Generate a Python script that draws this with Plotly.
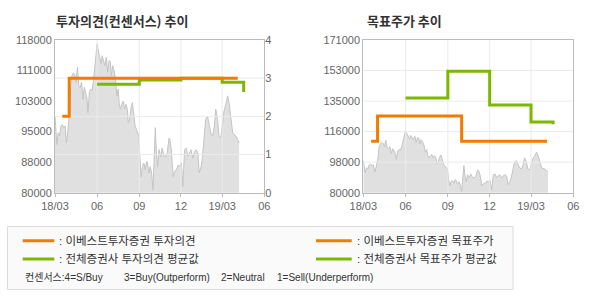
import numpy as np
import plotly.graph_objects as go

# ---------------- data ----------------
price_dates = [
    '2018-03-01', '2018-03-03', '2018-03-05', '2018-03-08', '2018-03-11', '2018-03-14', '2018-03-17',
    '2018-03-20', '2018-03-23', '2018-03-26', '2018-03-29', '2018-04-02', '2018-04-04', '2018-04-07',
    '2018-04-10', '2018-04-13', '2018-04-16', '2018-04-19', '2018-04-22', '2018-04-25', '2018-04-28',
    '2018-05-01', '2018-05-04', '2018-05-07', '2018-05-10', '2018-05-12', '2018-05-15', '2018-05-18',
    '2018-05-21', '2018-05-24', '2018-05-27', '2018-05-30', '2018-06-01',
    '2018-06-04', '2018-06-07', '2018-06-10', '2018-06-12', '2018-06-15', '2018-06-18', '2018-06-21',
    '2018-06-24', '2018-06-27', '2018-06-30', '2018-07-02', '2018-07-05', '2018-07-08', '2018-07-11',
    '2018-07-14', '2018-07-17', '2018-07-19', '2018-07-22', '2018-07-25', '2018-07-28', '2018-07-31',
    '2018-08-03', '2018-08-06', '2018-08-08', '2018-08-11', '2018-08-14', '2018-08-17', '2018-08-20',
    '2018-08-23', '2018-08-26', '2018-08-28', '2018-08-31',
    '2018-09-02', '2018-09-05', '2018-09-08', '2018-09-11', '2018-09-14', '2018-09-17', '2018-09-19',
    '2018-09-22', '2018-09-25', '2018-09-28', '2018-10-01', '2018-10-04', '2018-10-06', '2018-10-08',
    '2018-10-11', '2018-10-14', '2018-10-18', '2018-10-21', '2018-10-25', '2018-10-29', '2018-11-01',
    '2018-11-05', '2018-11-07', '2018-11-10', '2018-11-14', '2018-11-17', '2018-11-21', '2018-11-25',
    '2018-11-28',
    '2018-12-02', '2018-12-05', '2018-12-09', '2018-12-13', '2018-12-16', '2018-12-20', '2018-12-23',
    '2018-12-27', '2018-12-31', '2019-01-03', '2019-01-07', '2019-01-10', '2019-01-14', '2019-01-17',
    '2019-01-21', '2019-01-24', '2019-01-28', '2019-02-01', '2019-02-04', '2019-02-08', '2019-02-12',
    '2019-02-15', '2019-02-19', '2019-02-22', '2019-02-26',
    '2019-03-02', '2019-03-05', '2019-03-09', '2019-03-13', '2019-03-16', '2019-03-20', '2019-03-24',
    '2019-03-27', '2019-03-31', '2019-04-04', '2019-04-07',
]
price_values = [
    99100, 94900, 92000, 94900, 94100, 96600, 97000,
    96200, 96600, 92400, 95300, 100800, 106600, 109100,
    109800, 109500, 107500, 111200, 106600, 106200, 107500,
    103300, 106200, 104900, 103300, 99900, 104900, 105800,
    105400, 107900, 111600, 115800, 117100,
    115000, 113700, 112100, 114100, 112900, 111600, 113700,
    110000, 112900, 112500, 109100, 111600, 110400, 108300,
    104100, 105800, 102400, 100800, 102000, 102800, 100800,
    102000, 100800, 97400, 98200, 101200, 102400, 99100,
    96600, 95700, 94900, 94100,
    89900, 84000, 86500, 87400, 85700, 87800, 87400,
    84900, 86500, 84900, 80700, 90700, 96200, 90700,
    86500, 90700, 89000, 91100, 89000, 89000, 89900,
    93600, 93200, 90700, 84000, 85300, 85700, 86900,
    86500,
    87400, 81500, 90700, 91100, 89000, 89900, 90700,
    88600, 90300, 90700, 89900, 84900, 86500, 89000,
    94900, 98200, 99100, 96600, 94900, 94100, 96600,
    100800, 98200, 94100, 93600,
    97400, 100300, 102000, 104100, 102400, 99100, 94900,
    94500, 94100, 93200, 92400,
]

# 이베스트투자증권 투자의견 (right axis 0-4)
opinion_dates = ['2018-03-17', '2018-04-01', '2019-04-04']
opinion_values = [2, 3, 3]
# 전체증권사 투자의견 평균값
avg_opinion_dates = ['2018-06-01', '2018-09-01', '2018-12-01', '2019-03-01', '2019-04-17']
avg_opinion_values = [2.84, 2.95, 3.0, 2.89, 2.64]

# 이베스트투자증권 목표주가
target_dates = ['2018-03-18', '2018-04-01', '2018-10-01', '2019-04-05']
target_values = [110700, 125700, 110700, 110700]
# 전체증권사 목표주가 평균값
avg_target_dates = ['2018-06-01', '2018-09-01', '2018-12-01', '2019-03-01', '2019-04-18']
avg_target_values = [136400, 152400, 132200, 122100, 120800]

x_tick_dates = ['2018-03-01', '2018-06-01', '2018-09-01', '2018-12-01', '2019-03-01', '2019-06-01']
x_tick_labels = ['18/03', '06', '09', '12', '19/03', '06']
left_price_ticks = ['80000', '88000', '95000', '103000', '111000', '118000']
right_price_ticks = ['80000', '98000', '116000', '135000', '153000', '171000']
opinion_ticks = ['0', '1', '2', '3', '4']

left_price_range = [80000, 118000]
right_price_range = [80000, 171000]
opinion_range = [0, 4]

# ---------------- styles ----------------
ORANGE = '#F07D00'
GREEN = '#7DB700'
AREA_FILL = '#E0E0E0'
AREA_LINE = '#C4C4C4'
GRID = '#EBEBEB'
AXIS = '#BBBBBB'
TICKC = '#666666'
W, H = 590, 300
KFONT = 'Liberation Sans, Noto Sans CJK KR, sans-serif'

def px(x):
    return x / W

def py(y):
    return 1 - y / H

fig = go.Figure()

# helper for gridlines drawn above the price area
def grid_trace(xaxis, yaxis, yrange, yvals):
    gx, gy = [], []
    for d in x_tick_dates[1:-1]:
        gx += [d, d, None]
        gy += [yrange[0], yrange[1], None]
    for v in yvals:
        gx += [x_tick_dates[0], x_tick_dates[-1], None]
        gy += [v, v, None]
    return go.Scatter(x=gx, y=gy, mode='lines', line=dict(color=GRID, width=1),
                      xaxis=xaxis, yaxis=yaxis, hoverinfo='skip', showlegend=False)

# ----- left chart -----
fig.add_trace(go.Scatter(x=price_dates, y=price_values, mode='lines', fill='tozeroy',
                         fillcolor=AREA_FILL, line=dict(color=AREA_LINE, width=1),
                         xaxis='x', yaxis='y', hoverinfo='skip', showlegend=False))
fig.add_trace(grid_trace('x', 'y2', opinion_range, [1, 2, 3]))
fig.add_trace(go.Scatter(x=avg_opinion_dates, y=avg_opinion_values, mode='lines',
                         line=dict(color=GREEN, width=3, shape='hv'),
                         xaxis='x', yaxis='y2', showlegend=False))
fig.add_trace(go.Scatter(x=opinion_dates, y=opinion_values, mode='lines',
                         line=dict(color=ORANGE, width=3, shape='hv'),
                         xaxis='x', yaxis='y2', showlegend=False))

# ----- right chart -----
right_grid_vals = list(np.linspace(right_price_range[0], right_price_range[1], len(right_price_ticks)))[1:-1]
fig.add_trace(go.Scatter(x=price_dates, y=price_values, mode='lines', fill='tozeroy',
                         fillcolor=AREA_FILL, line=dict(color=AREA_LINE, width=1),
                         xaxis='x2', yaxis='y3', hoverinfo='skip', showlegend=False))
fig.add_trace(grid_trace('x2', 'y3', right_price_range, right_grid_vals))
fig.add_trace(go.Scatter(x=avg_target_dates, y=avg_target_values, mode='lines',
                         line=dict(color=GREEN, width=3, shape='hv'),
                         xaxis='x2', yaxis='y3', showlegend=False))
fig.add_trace(go.Scatter(x=target_dates, y=target_values, mode='lines',
                         line=dict(color=ORANGE, width=3, shape='hv'),
                         xaxis='x2', yaxis='y3', showlegend=False))

ydom = [py(192.7), py(40)]
tickfont = dict(family='Liberation Sans, Arial, sans-serif', size=11, color=TICKC)

xcommon = dict(type='date', range=[x_tick_dates[0], x_tick_dates[-1]], tickmode='array',
               tickvals=x_tick_dates, ticktext=x_tick_labels, showgrid=False, zeroline=False,
               showline=True, linecolor=AXIS, linewidth=1, mirror=True,
               ticks='outside', ticklen=3, tickcolor=AXIS, tickfont=tickfont, automargin=False)

fig.update_layout(
    width=W, height=H,
    margin=dict(l=0, r=0, t=0, b=0),
    paper_bgcolor='white', plot_bgcolor='white',
    showlegend=False,
    xaxis=dict(domain=[px(55), px(264.3)], anchor='y', **xcommon),
    yaxis=dict(domain=ydom, anchor='x', range=left_price_range, tickmode='array',
               tickvals=list(np.linspace(left_price_range[0], left_price_range[1], len(left_price_ticks))),
               ticktext=left_price_ticks, showgrid=False, zeroline=False,
               showline=True, linecolor=AXIS, mirror=True, ticks='', tickfont=tickfont,
               automargin=False),
    yaxis2=dict(overlaying='y', side='right', anchor='x', range=opinion_range, tickmode='array',
                tickvals=list(range(len(opinion_ticks))), ticktext=opinion_ticks,
                showgrid=False, zeroline=False, showline=False, ticks='', tickfont=tickfont,
                automargin=False),
    xaxis2=dict(domain=[px(363.3), px(573.3)], anchor='y3', **xcommon),
    yaxis3=dict(domain=ydom, anchor='x2', range=right_price_range, tickmode='array',
                tickvals=list(np.linspace(right_price_range[0], right_price_range[1], len(right_price_ticks))),
                ticktext=right_price_ticks, showgrid=False, zeroline=False,
                showline=True, linecolor=AXIS, mirror=True, ticks='', tickfont=tickfont,
                automargin=False),
)

# titles
fig.add_annotation(x=px(54), y=py(20.5), xref='paper', yref='paper', xanchor='left', yanchor='middle',
                   text='<b>투자의견(컨센서스) 추이</b>', showarrow=False,
                   font=dict(family='Noto Sans CJK KR', size=13, color='#333333'))
fig.add_annotation(x=px(365.5), y=py(20.5), xref='paper', yref='paper', xanchor='left', yanchor='middle',
                   text='<b>목표주가 추이</b>', showarrow=False,
                   font=dict(family='Noto Sans CJK KR', size=13, color='#333333'))

# legend box
fig.add_shape(type='rect', xref='paper', yref='paper', x0=px(7.5), x1=px(513), y0=py(289.5), y1=py(226.5),
              line=dict(color='#DCDCDC', width=1), fillcolor='#FAFAFA', layer='below')
legend_items = [
    (22.7, 54.3, 240.7, ORANGE, '이베스트투자증권 투자의견'),
    (22.7, 54.3, 259.0, GREEN, '전체증권사 투자의견 평균값'),
    (316.0, 351.7, 240.7, ORANGE, '이베스트투자증권 목표주가'),
    (316.0, 351.7, 259.0, GREEN, '전체증권사 목표주가 평균값'),
]
for x0, x1, yy, col, label in legend_items:
    fig.add_shape(type='line', xref='paper', yref='paper', x0=px(x0), x1=px(x1), y0=py(yy), y1=py(yy),
                  line=dict(color=col, width=3))
    fig.add_annotation(x=px(x1 + 3), y=py(yy), xref='paper', yref='paper', xanchor='left', yanchor='middle',
                       text=':\u00a0' + label, showarrow=False,
                       font=dict(family=KFONT, size=11.5, color='#333333'))

consensus_parts = [(22.7, '컨센서스:4=S/Buy'), (121.7, '3=Buy(Outperform)'),
                   (219.3, '2=Neutral'), (275.3, '1=Sell(Underperform)')]
for xx, txt in consensus_parts:
    fig.add_annotation(x=px(xx), y=py(277.3), xref='paper', yref='paper', xanchor='left', yanchor='middle',
                       text=txt, showarrow=False,
                       font=dict(family=KFONT, size=10, color='#333333'))

fig.write_html('out.html')
